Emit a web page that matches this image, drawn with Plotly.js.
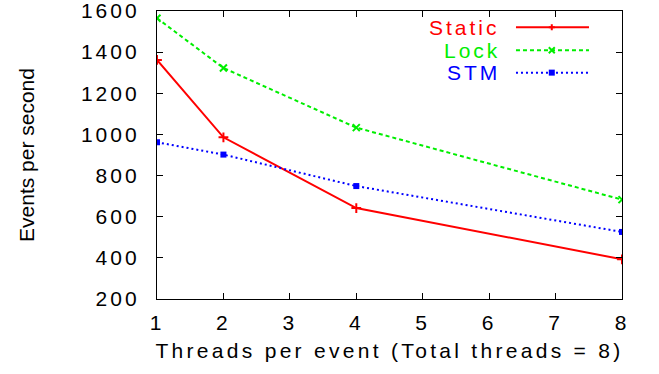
<!DOCTYPE html>
<html>
<head>
<meta charset="utf-8">
<script src="https://cdn.plot.ly/plotly-3.0.1.min.js"></script>
<style>
  html, body { margin: 0; padding: 0; background: #fff; }
  #chart { width: 659px; height: 374px; }
  .xtick text, .ytick text, .annotation-text { letter-spacing: 3px; }
  .g-xtitle text { letter-spacing: 3.3px; }
  .g-ytitle text { letter-spacing: 0px; }
</style>
</head>
<body>
<div id="chart"></div>
<script>
// Data
const threads = [1, 2, 4, 8];
const staticVals = [1362, 986, 642, 393];
const lockVals = [1565, 1323, 1033, 683];
const stmVals = [962, 902, 749, 526];
const xTicks = [1, 2, 3, 4, 5, 6, 7, 8];
const yTicks = [200, 400, 600, 800, 1000, 1200, 1400, 1600];
const seriesNames = ['Static', 'Lock', 'STM'];
const xTitle = 'Threads per event (Total threads = 8)';
const yTitle = 'Events per second';

const FONT = 'Liberation Sans';
const RED = '#ff0000', GREEN = '#00ee00', BLUE = '#0000ff';

const traces = [
  {
    x: threads, y: staticVals, name: seriesNames[0], type: 'scatter', mode: 'lines+markers',
    line: { color: RED, width: 2 },
    marker: { symbol: 'cross-thin-open', size: 7, color: RED, line: { color: RED, width: 2 } }
  },
  {
    x: threads, y: lockVals, name: seriesNames[1], type: 'scatter', mode: 'lines+markers',
    line: { color: GREEN, width: 2, dash: '4px,3px' },
    marker: { symbol: 'x-thin-open', size: 7, color: GREEN, line: { color: GREEN, width: 2 } }
  },
  {
    x: threads, y: stmVals, name: seriesNames[2], type: 'scatter', mode: 'lines+markers',
    line: { color: BLUE, width: 2, dash: '2px,3px' },
    marker: { symbol: 'square', size: 6, color: BLUE }
  }
];

// Legend (text left of sample, gnuplot style)
const legendColors = [RED, GREEN, BLUE];
const legendY = [0.944, 0.864, 0.786];
const annotations = seriesNames.map((n, i) => ({
  xref: 'paper', yref: 'paper', x: 0.742, y: legendY[i],
  xanchor: 'right', yanchor: 'middle', showarrow: false, text: n,
  font: { family: FONT, size: 21, color: legendColors[i] }
}));
const dashes = ['solid', '4px,3px', '2px,3px'];
const shapes = [];
seriesNames.forEach((n, i) => {
  shapes.push({ type: 'line', xref: 'paper', yref: 'paper', x0: 0.772, x1: 0.929, y0: legendY[i], y1: legendY[i],
    line: { color: legendColors[i], width: 2, dash: dashes[i] } });
});
// legend marker glyphs
const mx = 0.849;
shapes.push({ type: 'path', xref: 'paper', yref: 'paper', xsizemode: 'pixel', ysizemode: 'pixel',
  xanchor: mx, yanchor: legendY[0], path: 'M-3,0L3,0M0,-3L0,3', line: { color: RED, width: 2 } });
shapes.push({ type: 'path', xref: 'paper', yref: 'paper', xsizemode: 'pixel', ysizemode: 'pixel',
  xanchor: mx, yanchor: legendY[1], path: 'M-3,-3L3,3M-3,3L3,-3', line: { color: GREEN, width: 2 } });
shapes.push({ type: 'rect', xref: 'paper', yref: 'paper', xsizemode: 'pixel', ysizemode: 'pixel',
  xanchor: mx, yanchor: legendY[2], x0: -3, x1: 3, y0: -3, y1: 3, fillcolor: BLUE, line: { color: BLUE, width: 0 } });

const layout = {
  width: 659, height: 374,
  margin: { l: 157, r: 37, t: 11, b: 75, pad: 0 },
  paper_bgcolor: '#fff', plot_bgcolor: '#fff',
  showlegend: false,
  font: { family: FONT, size: 21, color: '#000' },
  xaxis: {
    range: [1, 8], tickvals: xTicks, ticktext: xTicks.map(String),
    ticks: 'inside', ticklen: 6, tickwidth: 1, tickcolor: '#000',
    mirror: 'allticks', showline: true, linecolor: '#000', linewidth: 1.2,
    showgrid: false, zeroline: false, ticklabelstandoff: 5, ticklabeloverflow: 'allow',
    tickfont: { family: FONT, size: 21, color: '#000' },
    title: { text: xTitle, font: { family: FONT, size: 21, color: '#000' }, standoff: 9 }
  },
  yaxis: {
    range: [200, 1600], tickvals: yTicks, ticktext: yTicks.map(String),
    ticks: 'inside', ticklen: 6, tickwidth: 1, tickcolor: '#000',
    mirror: 'allticks', showline: true, linecolor: '#000', linewidth: 1.2,
    showgrid: false, zeroline: false, ticklabelstandoff: 12, ticklabeloverflow: 'allow',
    tickfont: { family: FONT, size: 21, color: '#000' },
    title: { text: yTitle, font: { family: FONT, size: 21, color: '#000' }, standoff: 40 }
  },
  annotations: annotations,
  shapes: shapes
};

Plotly.newPlot('chart', traces, layout, { staticPlot: true, displayModeBar: false });
</script>
</body>
</html>
